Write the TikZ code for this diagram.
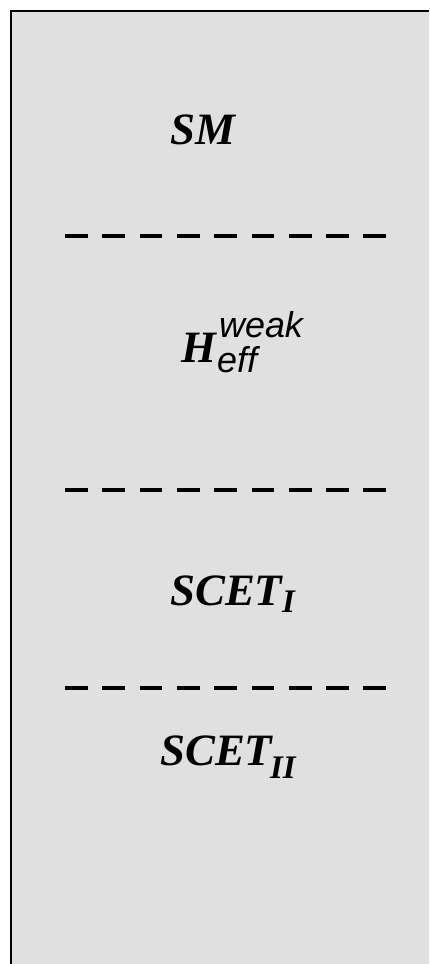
\documentclass[tikz,border=0pt]{standalone}
\usepackage{fontspec}
\newfontfamily\tms{Liberation Serif}
\newfontfamily\hlv{Liberation Sans}
\definecolor{panel}{RGB}{224,224,224}
\begin{document}
\begin{tikzpicture}[x=1bp,y=-1bp,
  big/.style={inner sep=0pt,anchor=base west,font=\tms\bfseries\itshape\fontsize{45}{50}\selectfont},
  subbig/.style={inner sep=0pt,anchor=base west,font=\tms\bfseries\itshape\fontsize{33}{38}\selectfont},
  sans/.style={inner sep=0pt,anchor=base west,font=\hlv\itshape\fontsize{36}{40}\selectfont},
  sep/.style={line width=4bp,dash pattern=on 22.7bp off 14.6bp}]
\useasboundingbox (0,0) rectangle (429,964);
\fill[white] (0,0) rectangle (429,964);
\fill[panel] (11,11) rectangle (429,964);
\draw[line width=2bp] (11,964) -- (11,11) -- (429,11);
% labels
\node[big] (sm) at (170,144) {SM};
\node[big] (h) at (181,362) {H};
\node[sans] (hsub) at (217,372) {eff};
\node[sans] (hsup) at (219,337) {weak};
\node[big] (s1) at (170,605) {SCET};
\node[subbig] (s1sub) at (282,612) {I};
\node[big] (s2) at (160,765) {SCET};
\node[subbig] (s2sub) at (270,778) {II};
% separators
\coordinate (a1) at (65,236); \coordinate (b1) at (390,236);
\coordinate (a2) at (65,490); \coordinate (b2) at (390,490);
\coordinate (a3) at (65,688); \coordinate (b3) at (390,688);
\draw[sep] (a1) -- (b1);
\draw[sep] (a2) -- (b2);
\draw[sep] (a3) -- (b3);
\end{tikzpicture}
\end{document}
